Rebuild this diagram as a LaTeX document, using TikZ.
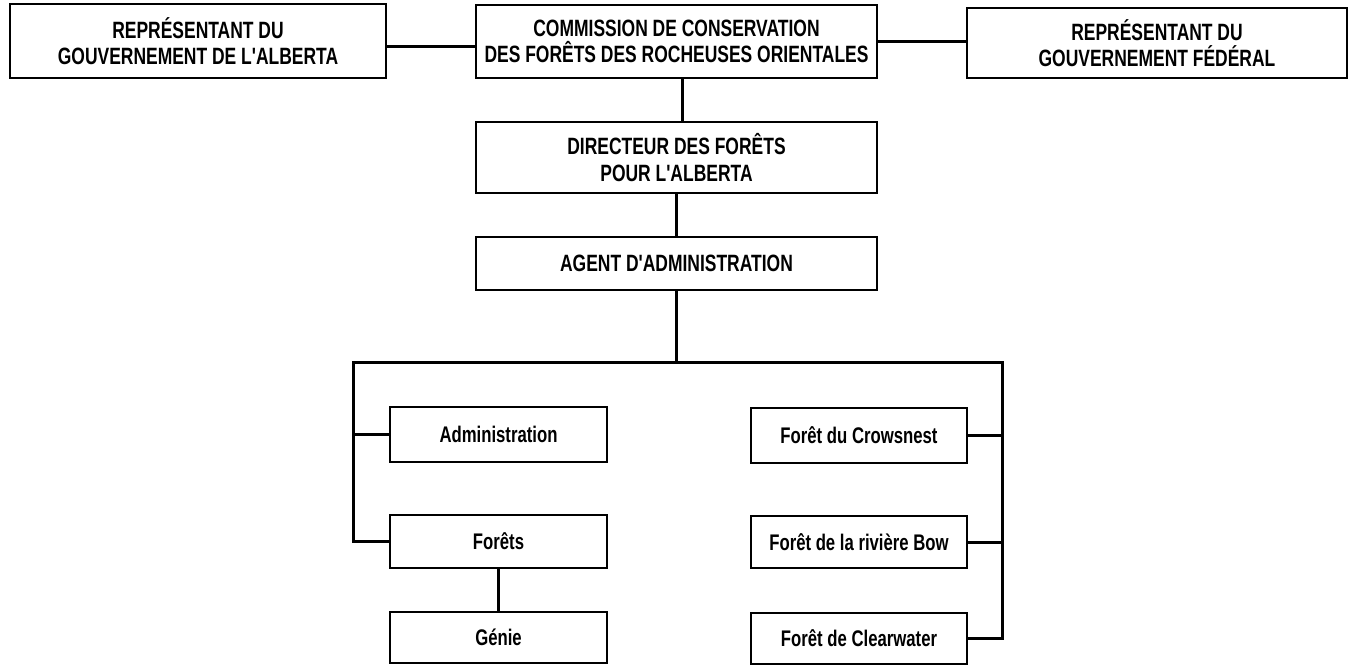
\documentclass[tikz,border=0pt]{standalone}
\usepackage{fontspec}
\newfontfamily\chartfont{Liberation Sans}[FakeStretch=0.74]
\begin{document}
\begin{tikzpicture}[x=0.5pt,y=-0.5pt,
  box/.style={draw,line width=1pt,rectangle,inner sep=0pt,align=center,
    font=\chartfont\bfseries\fontsize{11.8pt}{13.2pt}\selectfont},
  unit/.style={box,font=\chartfont\bfseries\fontsize{11.3pt}{13pt}\selectfont},
  link/.style={line width=1.5pt}]
\useasboundingbox (0,0) rectangle (1355,666);

% top level
\node[box,minimum width=188pt,minimum height=37pt] (alb) at (198,41)
  {REPRÉSENTANT DU\\GOUVERNEMENT DE L'ALBERTA};
\node[box,minimum width=200.5pt,minimum height=36.5pt] (comm) at (676.5,41.5)
  {COMMISSION DE CONSERVATION\\DES FORÊTS DES ROCHEUSES ORIENTALES};
\node[box,minimum width=190pt,minimum height=35pt] (fed) at (1157,43)
  {REPRÉSENTANT DU\\GOUVERNEMENT FÉDÉRAL};

% management chain
\node[box,minimum width=200.5pt,minimum height=35.5pt] (dir) at (676.5,157.5)
  {DIRECTEUR DES FORÊTS\\POUR L'ALBERTA};
\node[box,minimum width=200.5pt,minimum height=26.5pt] (agent) at (676.5,263.5)
  {AGENT D'ADMINISTRATION};

% services
\node[unit,minimum width=108.5pt,minimum height=27.5pt] (adm) at (498.5,434.5) {Administration};
\node[unit,minimum width=108.5pt,minimum height=26.5pt] (forets) at (498.5,541.5) {Forêts};
\node[unit,minimum width=108.5pt,minimum height=25.5pt] (genie) at (498.5,637.5) {Génie};

% forests
\node[unit,minimum width=108pt,minimum height=27.5pt] (crow) at (859,435.5) {Forêt du Crowsnest};
\node[unit,minimum width=108pt,minimum height=26pt] (bow) at (859,542) {Forêt de la rivière Bow};
\node[unit,minimum width=108pt,minimum height=25.5pt] (clear) at (859,638.5) {Forêt de Clearwater};

% bus ends
\coordinate (busL) at (353,362);
\coordinate (busR) at (1002,362);

% connectors
\draw[link] ([yshift=-2.5pt]alb.east) -- ([yshift=-2.5pt]alb.east -| comm.west);
\draw[link] (comm.east) -- (comm.east -| fed.west);
\draw[link] ([xshift=3pt]comm.south) -- ([xshift=3pt]dir.north);
\draw[link] (dir.south) -- (agent.north);
\draw[link] (agent.south) -- (agent.south |- busL);
\draw[link] (forets.west) -| (busL) -- (busR) |- (clear.east);
\draw[link] (adm.west) -- (adm.west -| busL);
\draw[link] (crow.east) -- (crow.east -| busR);
\draw[link] (bow.east) -- (bow.east -| busR);
\draw[link] (forets.south) -- (genie.north);
\end{tikzpicture}
\end{document}
